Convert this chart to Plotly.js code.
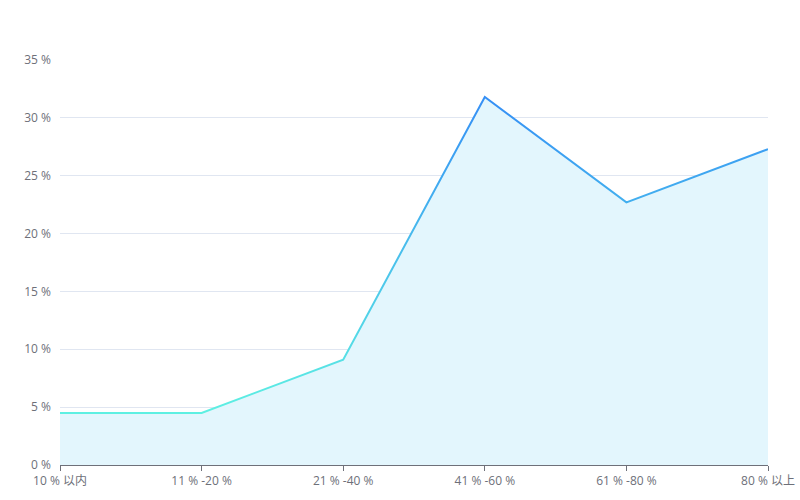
<!DOCTYPE html>
<html>
<head>
<meta charset="utf-8">
<script src="https://cdn.plot.ly/plotly-3.0.1.min.js"></script>
<style>
html,body{margin:0;padding:0;background:#fff;}
#chart{width:800px;height:500px;}
</style>
</head>
<body>
<div id="chart"></div>
<script>
const categories = ['10 % 以内', '11 % -20 %', '21 % -40 %', '41 % -60 %', '61 % -80 %', '80 % 以上'];
const values = [4.5, 4.5, 9.1, 31.8, 22.7, 27.3];
const yTickVals = [0, 5, 10, 15, 20, 25, 30, 35];
const yTickText = ['0 %', '5 %', '10 %', '15 %', '20 %', '25 %', '30 %', '35 %'];

const font = '"Open Sans", "Noto Sans CJK SC", sans-serif';

const trace = {
  type: 'scatter',
  mode: 'lines',
  x: categories,
  y: values,
  fill: 'tozeroy',
  fillcolor: '#e3f6fd',
  line: {color: '#3a90f2', width: 2},
  hoverinfo: 'x+y'
};

const layout = {
  width: 800,
  height: 500,
  margin: {l: 60, r: 32, t: 60, b: 35},
  paper_bgcolor: '#ffffff',
  plot_bgcolor: '#ffffff',
  showlegend: false,
  font: {family: font, size: 12, color: '#6e7079'},
  xaxis: {
    type: 'category',
    range: [0, categories.length - 1],
    showgrid: false,
    zeroline: false,
    showline: true,
    linecolor: '#6e7079',
    linewidth: 1,
    ticks: 'outside',
    ticklen: 5,
    tickcolor: '#6e7079',
    tickfont: {family: font, size: 12, color: '#6e7079'},
    fixedrange: true
  },
  yaxis: {
    range: [0, 35],
    tickvals: yTickVals,
    ticktext: yTickText,
    showgrid: true,
    gridcolor: '#e0e6f1',
    gridwidth: 1,
    zeroline: false,
    showline: false,
    ticks: '',
    ticklabelstandoff: 8,
    tickfont: {family: font, size: 12, color: '#6e7079'},
    fixedrange: true
  }
};

function applyGradient(gd) {
  const svg = gd.querySelector('svg.main-svg');
  if (!svg) return;
  let defs = svg.querySelector('defs');
  if (!defs) { defs = document.createElementNS('http://www.w3.org/2000/svg', 'defs'); svg.insertBefore(defs, svg.firstChild); }
  if (!svg.querySelector('#lineGrad')) {
    const g = document.createElementNS('http://www.w3.org/2000/svg', 'linearGradient');
    g.setAttribute('id', 'lineGrad');
    g.setAttribute('x1', '0'); g.setAttribute('y1', '1');
    g.setAttribute('x2', '0'); g.setAttribute('y2', '0');
    const s1 = document.createElementNS('http://www.w3.org/2000/svg', 'stop');
    s1.setAttribute('offset', '0'); s1.setAttribute('stop-color', '#5ef0e2');
    const s2 = document.createElementNS('http://www.w3.org/2000/svg', 'stop');
    s2.setAttribute('offset', '1'); s2.setAttribute('stop-color', '#358ff5');
    g.appendChild(s1); g.appendChild(s2);
    defs.appendChild(g);
  }
  gd.querySelectorAll('.scatterlayer path.js-line').forEach(p => {
    p.style.stroke = 'url(#lineGrad)';
  });
}

const gd = document.getElementById('chart');
Plotly.newPlot(gd, [trace], layout, {displayModeBar: false, staticPlot: true}).then(() => {
  applyGradient(gd);
  gd.on && gd.on('plotly_afterplot', () => applyGradient(gd));
});
</script>
</body>
</html>
